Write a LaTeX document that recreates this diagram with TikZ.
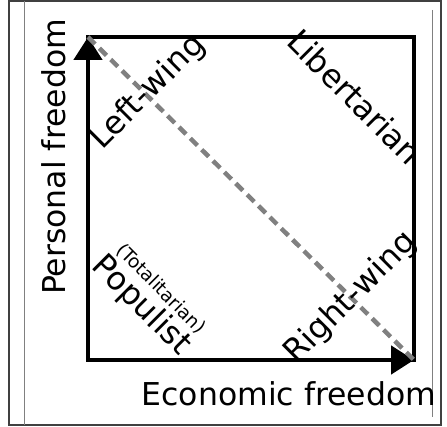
\documentclass[tikz,border=0pt]{standalone}
\usepackage{fontspec}
\setmainfont{DejaVu Sans}
\usetikzlibrary{arrows.meta}
\begin{document}
\begin{tikzpicture}[x=1pt,y=-1pt,
  axis/.style={line width=4.8pt, line join=miter},
  axisarrow/.style={axis, -{Triangle[length=23pt,width=28pt]}},
  diag/.style={line width=4.5pt, draw=black!50, dash pattern=on 10pt off 6pt},
  biglbl/.style={font=\fontsize{31.5}{38}\selectfont, inner sep=0pt},
  quad/.style={font=\fontsize{32}{38}\selectfont, inner sep=0pt},
  smalllbl/.style={font=\fontsize{18.5}{22}\selectfont, inner sep=0pt},
  outerframe/.style={line width=1.2pt, draw=black!75},
  innerframe/.style={line width=0.8pt, draw=black!50}]
\useasboundingbox (0,0) rectangle (447,427);
% frame
\draw[outerframe] (9,1) rectangle (441,425);
\draw[innerframe] (24.5,1) -- (24.5,425);
\draw[innerframe] (432,10) -- (432,417);
% corners
\coordinate (tl) at (88,37);
\coordinate (tr) at (414,37);
\coordinate (br) at (414,360);
\coordinate (bl) at (88,360);
% square and axes
\draw[axis] (bl) rectangle (tr);
\draw[axisarrow] (bl) -- (tl);
\draw[axisarrow] (bl) -- (br);
\draw[diag] (tl) -- (br);
% labels
\node[biglbl, rotate=90, anchor=base] (pf) at (65,157) {Personal freedom};
\node[biglbl, anchor=base] (ef) at (289,405) {Economic freedom};
\node[quad, rotate=45] (lw) at (148,92) {Left-wing};
\node[quad, rotate=-45] (lib) at (355,97) {Libertarian};
\node[quad, rotate=45] (rw) at (351,298) {Right-wing};
\node[quad, rotate=-45] (pop) at (141,306) {Populist};
\node[smalllbl, rotate=-45] (tot) at (161,289) {(Totalitarian)};
\end{tikzpicture}
\end{document}
